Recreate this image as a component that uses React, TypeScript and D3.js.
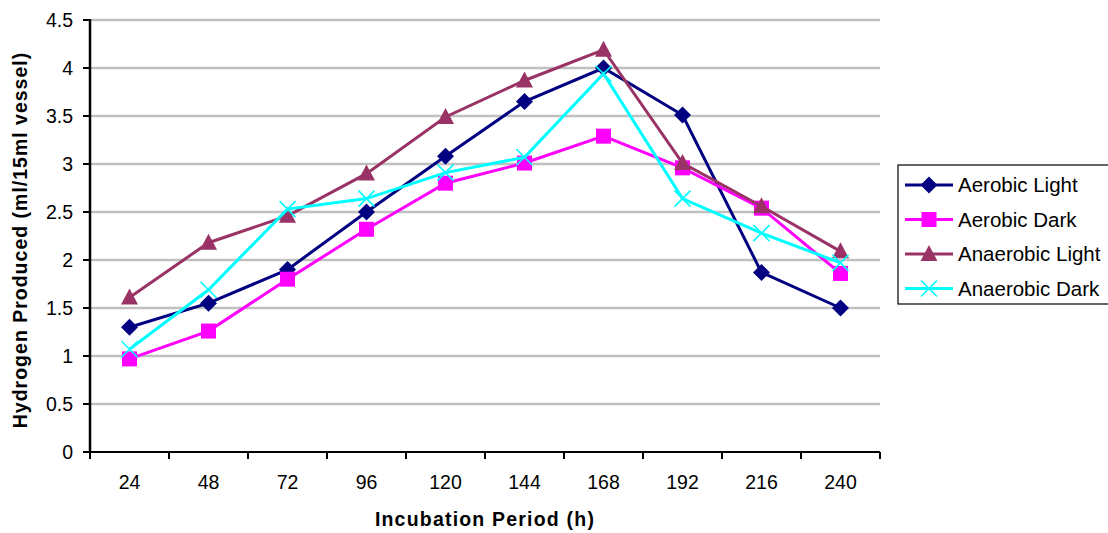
import React from 'react';
import * as d3 from 'd3';

const width = 1108;
const height = 533;
const margin = { top: 20, right: 228, bottom: 81, left: 90 };

const hours = ['24', '48', '72', '96', '120', '144', '168', '192', '216', '240'];
const aerobicLight = [1.3, 1.55, 1.9, 2.5, 3.08, 3.65, 4.0, 3.51, 1.87, 1.5];
const aerobicDark = [0.97, 1.26, 1.8, 2.32, 2.8, 3.01, 3.29, 2.96, 2.54, 1.86];
const anaerobicLight = [1.61, 2.18, 2.46, 2.9, 3.49, 3.87, 4.19, 3.01, 2.56, 2.09];
const anaerobicDark = [1.07, 1.69, 2.53, 2.64, 2.91, 3.07, 3.94, 2.64, 2.28, 1.97];
const yTicks = [0, 0.5, 1, 1.5, 2, 2.5, 3, 3.5, 4, 4.5];

const series = [
  { name: 'Aerobic Light', values: aerobicLight, color: '#000080', marker: 'diamond' },
  { name: 'Aerobic Dark', values: aerobicDark, color: '#FF00FF', marker: 'square' },
  { name: 'Anaerobic Light', values: anaerobicLight, color: '#993366', marker: 'triangle' },
  { name: 'Anaerobic Dark', values: anaerobicDark, color: '#00FFFF', marker: 'cross' },
];

const font = '"Liberation Sans", Arial, sans-serif';

const Marker = ({ type, color, x, y }: { type: string; color: string; x: number; y: number }) => {
  if (type === 'diamond') {
    return <path d={`M${x},${y - 8.5}L${x + 8.5},${y}L${x},${y + 8.5}L${x - 8.5},${y}Z`} fill={color} />;
  }
  if (type === 'square') {
    return <rect x={x - 7.5} y={y - 7.5} width={15} height={15} fill={color} />;
  }
  if (type === 'triangle') {
    return <path d={`M${x},${y - 9}L${x + 8.5},${y + 7}L${x - 8.5},${y + 7}Z`} fill={color} />;
  }
  return (
    <path
      d={`M${x - 8},${y - 8}L${x + 8},${y + 8}M${x + 8},${y - 8}L${x - 8},${y + 8}`}
      stroke={color}
      strokeWidth={1.6}
    />
  );
};

export default function App() {
  const innerWidth = width - margin.left - margin.right;
  const innerHeight = height - margin.top - margin.bottom;

  const xScale = d3.scaleBand().domain(hours).range([0, innerWidth]);
  const yScale = d3.scaleLinear().domain([0, 4.5]).range([innerHeight, 0]);
  const cx = (h: string) => (xScale(h) as number) + xScale.bandwidth() / 2;

  const line = d3
    .line<number>()
    .x((_, i) => cx(hours[i]))
    .y(d => yScale(d));

  const bandEdges = hours.map(h => xScale(h) as number).concat([innerWidth]);

  return (
    <svg width={width} height={height} style={{ position: 'absolute', left: 0, top: 0, background: '#fff' }}>
      <g transform={`translate(${margin.left},${margin.top})`} fontFamily={font}>
        {yTicks.map(t => (
          <g key={t} transform={`translate(0,${yScale(t)})`}>
            {t > 0 && <line x1={0} x2={innerWidth} stroke="#c0c0c0" strokeWidth={2.5} />}
            <line x1={-7} x2={0} stroke="#000" strokeWidth={2} />
            <text x={-17} dy="0.36em" textAnchor="end" fontSize={19.5}>
              {t}
            </text>
          </g>
        ))}

        {bandEdges.map((e, i) => (
          <line key={i} x1={e} x2={e} y1={innerHeight} y2={innerHeight + 7} stroke="#000" strokeWidth={2} />
        ))}
        <line x1={0} x2={innerWidth} y1={innerHeight} y2={innerHeight} stroke="#000" strokeWidth={2} />
        <line x1={0} x2={0} y1={-1} y2={innerHeight} stroke="#000" strokeWidth={2.5} />

        {hours.map(h => (
          <text key={h} x={cx(h)} y={innerHeight + 37} textAnchor="middle" fontSize={19.5}>
            {h}
          </text>
        ))}

        {series.map(s => (
          <g key={s.name}>
            <path d={line(s.values) as string} fill="none" stroke={s.color} strokeWidth={3} />
            {s.values.map((v, i) => (
              <Marker key={i} type={s.marker} color={s.color} x={cx(hours[i])} y={yScale(v)} />
            ))}
          </g>
        ))}

        <text
          x={innerWidth / 2}
          y={innerHeight + 74}
          textAnchor="middle"
          fontSize={19.5}
          fontWeight="bold"
          letterSpacing={1.2}
        >
          Incubation Period (h)
        </text>
        <text
          transform={`translate(${-63},${innerHeight / 2 + 4}) rotate(-90)`}
          textAnchor="middle"
          fontSize={19.5}
          fontWeight="bold"
          letterSpacing={1}
        >
          Hydrogen Produced (ml/15ml vessel)
        </text>
      </g>

      <g fontFamily={font}>
        <rect x={898} y={165} width={220} height={139} fill="#fff" stroke="#000" strokeWidth={1.2} />
        {series.map((s, i) => {
          const y = 185 + i * 34.5;
          return (
            <g key={s.name}>
              <line x1={905} x2={953} y1={y} y2={y} stroke={s.color} strokeWidth={3} />
              <Marker type={s.marker} color={s.color} x={929} y={y} />
              <text x={958} y={y} dy="0.36em" fontSize={20.5}>
                {s.name}
              </text>
            </g>
          );
        })}
      </g>
    </svg>
  );
}
